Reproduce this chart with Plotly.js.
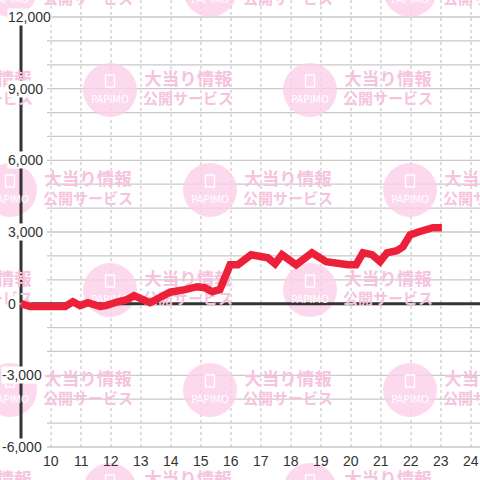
<!DOCTYPE html>
<html>
<head>
<meta charset="utf-8">
<script src="https://cdn.plot.ly/plotly-3.0.1.min.js"></script>
<style>html,body{margin:0;padding:0;background:#fff;}#chart{width:480px;height:480px;}</style>
</head>
<body>
<div id="chart"></div>
<script>
// ---- data ----
const hours = [9.0, 9.3, 10.47, 10.73, 10.97, 11.23, 11.63, 11.83, 12.23, 12.53, 12.77, 13.03, 13.3, 13.97, 14.23, 14.47, 14.87, 15.13, 15.37, 15.63, 15.97, 16.23, 16.67, 16.97, 17.23, 17.47, 17.7, 18.17, 18.7, 19.17, 19.5, 19.9, 20.17, 20.4, 20.7, 20.97, 21.2, 21.53, 21.73, 21.97, 22.27, 22.53, 22.73, 23.03];
const values = [0, -120, -120, 80, -80, 40, -120, -80, 80, 170, 330, 170, 40, 480, 500, 590, 710, 670, 500, 590, 1630, 1630, 2050, 1960, 1920, 1670, 2050, 1630, 2130, 1760, 1670, 1630, 1630, 2130, 2050, 1760, 2130, 2220, 2380, 2880, 3010, 3090, 3180, 3180];
const xTickVals = [10, 11, 12, 13, 14, 15, 16, 17, 18, 19, 20, 21, 22, 23, 24];
const xTickLabels = ['10', '11', '12', '13', '14', '15', '16', '17', '18', '19', '20', '21', '22', '23', '24'];
const yLabelVals = [-6000, -3000, 0, 3000, 6000, 9000, 12000];
const yLabelTexts = ['-6,000', '-3,000', '0', '3,000', '6,000', '9,000', '12,000'];
const yGridVals = [-6000, -5000, -4000, -3000, -2000, -1000, 1000, 2000, 3000, 4000, 5000, 6000, 7000, 8000, 9000, 10000, 11000, 12000];
const wmLine1 = '大当り情報';
const wmLine2 = '公開サービス';
const wmLogo = 'PAPIMO';

// ---- geometry of the frame ----
const W = 480, H = 480;
const xMin = 9, xPerPx = 1 / 30;             // hour 9 sits on the axis
const axisPx = 21;
const yLo = -6000, yHi = 12000, yLoPx = 447, yHiPx = 17;
const yPerPx = (yHi - yLo) / (yLoPx - yHiPx);
const xRange = [xMin - axisPx * xPerPx, xMin + (W - axisPx) * xPerPx];
const yRange = [yLo - (H - yLoPx) * yPerPx, yHi + yHiPx * yPerPx];
const px2x = p => xRange[0] + p * xPerPx;
const py2y = p => yRange[1] - p * yPerPx;

const shapes = [];
const annotations = [];

// horizontal grid lines
yGridVals.forEach(v => shapes.push({type: 'line', layer: 'below', xref: 'x', yref: 'y',
  x0: px2x(47), x1: xRange[1], y0: v, y1: v, line: {color: '#c9c9c9', width: 1.3}}));
// vertical dashed grid lines
xTickVals.forEach(v => shapes.push({type: 'line', layer: 'below', xref: 'x', yref: 'y',
  x0: v, x1: v, y0: yLo, y1: yRange[1], line: {color: '#bdbdbd', width: 1, dash: '3px,3px'}}));

// watermark tiles
const tiles = [];
for (let r = 0; r < 6; r++) {
  const cy = -10 + 100 * r;
  const xs = (r % 2 === 0) ? [10, 210, 410] : [-90, 110, 310];
  xs.forEach(cx => tiles.push([cx, cy]));
}
const R = 27;
tiles.forEach(([cx, cy]) => {
  shapes.push({type: 'circle', layer: 'below', xref: 'x', yref: 'y',
    x0: px2x(cx - R), x1: px2x(cx + R), y0: py2y(cy + R), y1: py2y(cy - R),
    fillcolor: '#fbd0e7', opacity: 0.8, line: {width: 0}});
  shapes.push({type: 'rect', layer: 'below', xref: 'x', yref: 'y',
    x0: px2x(cx - 4.5), x1: px2x(cx + 4.5), y0: py2y(cy - 3), y1: py2y(cy - 15),
    fillcolor: 'rgba(0,0,0,0)', line: {color: '#ffffff', width: 1.3}});
});

// axis lines
shapes.push({type: 'line', layer: 'below', xref: 'x', yref: 'y', x0: xMin, x1: xMin, y0: yLo, y1: yHi,
  line: {color: '#333333', width: 3}});
shapes.push({type: 'line', layer: 'below', xref: 'x', yref: 'y', x0: xMin, x1: xRange[1], y0: 0, y1: 0,
  line: {color: '#333333', width: 3}});

// y tick labels
yLabelVals.forEach((v, i) => annotations.push({
  xref: 'x', yref: 'y', x: px2x(v < 0 ? 1 : 7), y: v, xanchor: 'left', yanchor: 'middle',
  text: yLabelTexts[i], showarrow: false, bgcolor: '#ffffff', borderpad: 0,
  font: {family: 'Liberation Sans, Arial, sans-serif', size: 14, color: '#333333'}}));
// x tick labels
xTickVals.forEach((v, i) => annotations.push({
  xref: 'x', yref: 'y', x: v, y: py2y(461), xanchor: 'center', yanchor: 'middle',
  text: xTickLabels[i], showarrow: false,
  font: {family: 'Liberation Sans, Arial, sans-serif', size: 14, color: '#333333'}}));

// watermark text traces
const wmText = {
  type: 'scatter', mode: 'text', hoverinfo: 'skip', showlegend: false, cliponaxis: true,
  x: [], y: [], text: [], textposition: 'middle center',
  textfont: {family: 'Noto Sans CJK JP', size: [], color: '#f6c3de', weight: 'bold'}
};
const wmLogoTr = {
  type: 'scatter', mode: 'text', hoverinfo: 'skip', showlegend: false, cliponaxis: true,
  x: [], y: [], text: [], textposition: 'middle center',
  textfont: {family: 'DejaVu Sans', size: 10, color: '#ffffff'}
};
tiles.forEach(([cx, cy]) => {
  wmText.x.push(px2x(cx + 78)); wmText.y.push(py2y(cy - 9)); wmText.text.push(wmLine1); wmText.textfont.size.push(17.5);
  wmText.x.push(px2x(cx + 78)); wmText.y.push(py2y(cy + 10)); wmText.text.push(wmLine2); wmText.textfont.size.push(15);
  wmLogoTr.x.push(px2x(cx)); wmLogoTr.y.push(py2y(cy + 10)); wmLogoTr.text.push(wmLogo);
});

const line = {
  type: 'scatter', mode: 'lines', x: hours, y: values, showlegend: false,
  line: {color: '#ec2039', width: 7.5}, hoverinfo: 'x+y'
};

const layout = {
  width: W, height: H,
  margin: {l: 0, r: 0, t: 0, b: 0, pad: 0},
  paper_bgcolor: '#ffffff', plot_bgcolor: '#ffffff',
  showlegend: false,
  xaxis: {range: xRange, visible: false, fixedrange: true},
  yaxis: {range: yRange, visible: false, fixedrange: true},
  shapes: shapes,
  annotations: annotations
};

Plotly.newPlot('chart', [wmText, wmLogoTr, line], layout, {displayModeBar: false, staticPlot: true});
</script>
</body>
</html>
